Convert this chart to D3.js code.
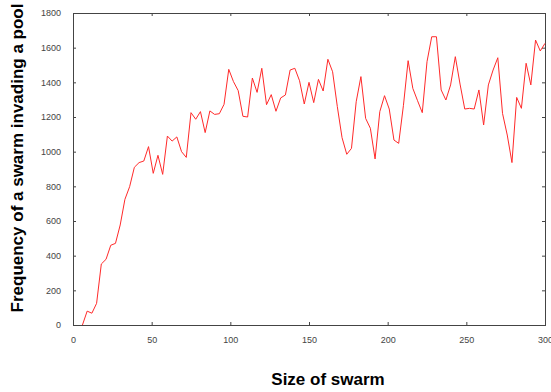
<!DOCTYPE html>
<html>
<head>
<meta charset="utf-8">
<script src="https://cdn.jsdelivr.net/npm/d3@7"></script>
<style>
  body { margin: 0; background: #fff; }
  svg text { font-family: "Liberation Sans", Arial, sans-serif; }
</style>
</head>
<body>
<svg id="chart" width="551" height="392"></svg>
<script>
// swarm sizes, one point every 3
var swarmSize = [6, 9, 12, 15, 18, 21, 24, 27, 30, 33, 36, 39, 42, 45, 48, 51, 54, 57, 60, 63,
  66, 69, 72, 75, 78, 81, 84, 87, 90, 93, 96, 99, 102, 105, 108, 111, 114, 117, 120, 123,
  126, 129, 132, 135, 138, 141, 144, 147, 150, 153, 156, 159, 162, 165, 168, 171, 174, 177, 180, 183,
  186, 189, 192, 195, 198, 201, 204, 207, 210, 213, 216, 219, 222, 225, 228, 231, 234, 237, 240, 243,
  246, 249, 252, 255, 258, 261, 264, 267, 270, 273, 276, 279, 282, 285, 288, 291, 294, 297, 300]

// frequency of a swarm invading a pool
var frequency = [0, 80, 68, 125, 352, 379, 460, 471, 577, 725, 798, 910, 937, 946, 1029, 875, 979, 869, 1090, 1061,
  1085, 1000, 967, 1225, 1187, 1231, 1110, 1235, 1215, 1219, 1273, 1475, 1404, 1352, 1204, 1200, 1425, 1342, 1481, 1271,
  1329, 1233, 1310, 1327, 1471, 1481, 1409, 1275, 1400, 1283, 1417, 1350, 1533, 1461, 1260, 1081, 985, 1019, 1288, 1433,
  1192, 1135, 958, 1231, 1323, 1246, 1067, 1048, 1265, 1525, 1365, 1294, 1225, 1519, 1663, 1663, 1356, 1298, 1385, 1548,
  1390, 1246, 1250, 1246, 1356, 1154, 1385, 1471, 1542, 1221, 1096, 937, 1313, 1250, 1510, 1385, 1644, 1581, 1625]

var xTicks = [0, 50, 100, 150, 200, 250, 300]
var yTicks = [0, 200, 400, 600, 800, 1000, 1200, 1400, 1600, 1800]

var margin = {top: 13, right: 6, bottom: 67, left: 73}
var width = 551 - margin.left - margin.right
var height = 392 - margin.top - margin.bottom

var x = d3.scaleLinear().domain([0, 300]).range([0, width])
var y = d3.scaleLinear().domain([0, 1800]).range([height, 0])

var svg = d3.select('#chart')
var g = svg.append('g')
  .attr('transform', 'translate(' + margin.left + ',' + margin.top + ')')

// axes: labels outside, small ticks pointing inward
function styleAxis (sel) {
  sel.select('.domain').remove()
  sel.selectAll('.tick line').attr('stroke', '#444')
  sel.selectAll('.tick text').attr('fill', '#444').style('font-size', '9px')
}

g.append('g')
  .attr('transform', 'translate(0,' + height + ')')
  .call(d3.axisBottom(x).tickValues(xTicks).tickSize(-3).tickPadding(12).tickFormat(d3.format('d')))
  .call(styleAxis)

g.append('g')
  .call(d3.axisTop(x).tickValues(xTicks).tickSize(-3).tickFormat(''))
  .call(styleAxis)

g.append('g')
  .call(d3.axisLeft(y).tickValues(yTicks).tickSize(-3).tickPadding(12).tickFormat(d3.format('d')))
  .call(styleAxis)

g.append('g')
  .attr('transform', 'translate(' + width + ',0)')
  .call(d3.axisRight(y).tickValues(yTicks).tickSize(-3).tickFormat(''))
  .call(styleAxis)

// frame
g.append('rect')
  .attr('x', 0.5)
  .attr('y', 0.5)
  .attr('width', width)
  .attr('height', height)
  .attr('fill', 'none')
  .attr('stroke', '#444')

// the line
var line = d3.line()
  .x(function (d, i) { return x(swarmSize[i]) })
  .y(function (d) { return y(d) })

g.append('path')
  .attr('d', line(frequency))
  .attr('fill', 'none')
  .attr('stroke', '#ff2a2a')
  .attr('stroke-width', 1)

// titles
svg.append('text')
  .attr('x', 328)
  .attr('y', 385)
  .attr('text-anchor', 'middle')
  .style('font-size', '17px')
  .style('font-weight', 'bold')
  .text('Size of swarm')

svg.append('text')
  .attr('transform', 'translate(23,158) rotate(-90)')
  .attr('text-anchor', 'middle')
  .style('font-size', '17px')
  .style('font-weight', 'bold')
  .text('Frequency of a swarm invading a pool')
</script>
</body>
</html>
